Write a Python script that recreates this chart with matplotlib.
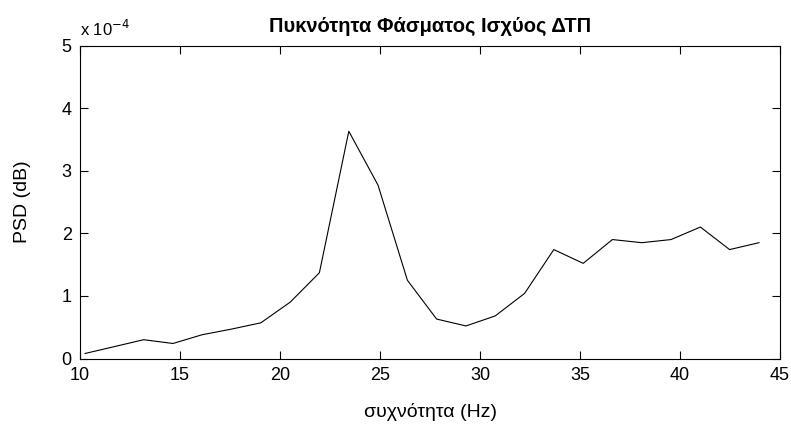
import matplotlib
matplotlib.use("Agg")
import matplotlib.pyplot as plt
from matplotlib.ticker import FuncFormatter

plt.rcParams["font.family"] = ["Liberation Sans", "DejaVu Sans"]

# frequency bins (Hz) and PSD estimate, in units of 1e-4
freq_hz = [10.25, 11.72, 13.18, 14.65, 16.11, 17.58, 19.04, 20.51, 21.97, 23.44,
           24.90, 26.37, 27.83, 29.30, 30.76, 32.23, 33.69, 35.16, 36.62, 38.09,
           39.55, 41.02, 42.48, 43.95]
psd_e4 = [0.08, 0.19, 0.30, 0.24, 0.38, 0.47, 0.57, 0.90, 1.37, 3.63,
          2.77, 1.25, 0.63, 0.52, 0.68, 1.04, 1.74, 1.52, 1.90, 1.85,
          1.90, 2.10, 1.74, 1.85]
scale = 1e-4
psd = [v * scale for v in psd_e4]

xticks = [10, 15, 20, 25, 30, 35, 40, 45]
yticks = [0, 1, 2, 3, 4, 5]

fig = plt.figure(figsize=(7.91, 4.25), dpi=100)
ax = fig.add_axes([80 / 791, 1 - 358.5 / 425, 700 / 791, 313 / 425])

ax.plot(freq_hz, psd, color="black", lw=0.8)

ax.set_xlim(10, 45)
ax.set_ylim(0, 5 * scale)
ax.set_xticks(xticks)
ax.set_yticks([t * scale for t in yticks])
ax.yaxis.set_major_formatter(FuncFormatter(lambda v, p: f"{v / scale:g}"))
ax.tick_params(direction="in", length=6, width=0.8, top=True, right=True,
               labelsize=13, pad=6)
for s in ax.spines.values():
    s.set_linewidth(0.8)

ax.text(0.0, 1.022, r"x 10$^{-4}$", transform=ax.transAxes, fontsize=12,
        ha="left", va="bottom")
ax.set_title("Πυκνότητα Φάσματος Ισχύος ΔΤΠ", fontsize=14.5, fontweight="bold", pad=10)
ax.set_xlabel("συχνότητα (Hz)", fontsize=14, labelpad=14)
ax.set_ylabel("PSD (dB)", fontsize=14, labelpad=22)

fig.savefig("out.png", dpi=100)
